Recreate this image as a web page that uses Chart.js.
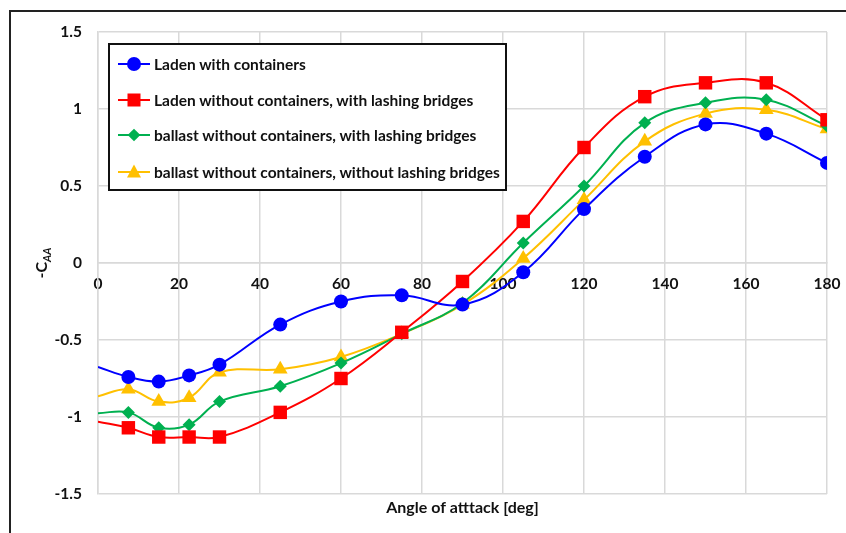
<!DOCTYPE html>
<html>
<head>
<meta charset="utf-8">
<script src="https://cdn.jsdelivr.net/npm/chart.js@4.4.1/dist/chart.umd.min.js"></script>
<style>
    body { margin: 0; background: #fff; }
    #wrap { position: relative; width: 846px; height: 533px; overflow: hidden; font-family: Lato, sans-serif; }
    #frame { position: absolute; left: 9px; top: 10px; width: 900px; height: 600px; border: 2px solid #222; }
    #yTitle { position: absolute; left: 42px; top: 263px; transform: translate(-50%, -50%) rotate(-90deg);
        font-weight: bold; font-size: 16px; color: #111; white-space: nowrap; }
    #yTitle sub { font-size: 11px; font-style: italic; }
    #legend { position: absolute; left: 108px; top: 43px; width: 395px; height: 144px; border: 2px solid #111;
        background: #fff; }
    .row { position: absolute; left: 8px; height: 20px; display: flex; align-items: center; }
    .sample { position: relative; width: 32px; height: 20px; margin-right: 4px; }
    .sample .ln { position: absolute; left: 0; right: 0; top: 9px; height: 2px; }
    .sample .mk { position: absolute; left: 50%; top: 50%; transform: translate(-50%, -50%); }
    .row span { font-weight: bold; font-size: 15.5px; color: #111; white-space: nowrap; }
</style>
</head>
<body>
<div id="wrap">
    <div id="frame"></div>
    <canvas id="lineChart" width="846" height="533"></canvas>
    <div id="yTitle">-C<sub>AA</sub></div>
    <div id="legend"></div>
</div>
<script>
// Data
const angles = [0, 7.5, 15, 22.5, 30, 45, 60, 75, 90, 105, 120, 135, 150, 165, 180];
const ladenWith = [-0.675, -0.74, -0.77, -0.73, -0.66, -0.40, -0.25, -0.21, -0.27, -0.06, 0.35, 0.69, 0.90, 0.84, 0.65];
const ladenLashing = [-1.03, -1.07, -1.13, -1.13, -1.13, -0.97, -0.75, -0.45, -0.12, 0.27, 0.75, 1.08, 1.17, 1.17, 0.93];
const ballastLashing = [-0.975, -0.97, -1.07, -1.05, -0.90, -0.80, -0.65, -0.46, -0.26, 0.13, 0.50, 0.91, 1.04, 1.06, 0.89];
const ballastNoLashing = [-0.865, -0.82, -0.90, -0.875, -0.71, -0.69, -0.61, -0.46, -0.27, 0.03, 0.41, 0.79, 0.97, 0.995, 0.87];

const seriesNames = [
    'Laden with containers',
    'Laden without containers, with lashing bridges',
    'ballast without containers, with lashing bridges',
    'ballast without containers, without lashing bridges'
];
const xTicks = { min: 0, max: 180, step: 20 };
const yTicks = { min: -1.5, max: 1.5, step: 0.5 };

const colors = ['#0000FF', '#FF0000', '#00B050', '#FFC000'];
const styles = ['circle', 'rect', 'rectRot', 'triangle'];
const sizes = [7, 9.5, 6.5, 8.5];

function toPoints(values) {
    return angles.map((a, i) => ({ x: a, y: values[i] }));
}

// first point (x = 0) has no marker in the original
function radii(r) {
    return angles.map((a, i) => i === 0 ? 0 : r);
}

const allValues = [ladenWith, ladenLashing, ballastLashing, ballastNoLashing];
const datasets = allValues.map((values, i) => ({
    label: seriesNames[i],
    data: toPoints(values),
    borderColor: colors[i],
    backgroundColor: colors[i],
    borderWidth: 2,
    pointStyle: styles[i],
    pointRadius: radii(sizes[i]),
    pointBorderWidth: 0,
    tension: 0.4
}));

const gridColor = '#d9d9d9';
const tickFont = { family: 'Lato', size: 15.5, weight: 'bold' };

const ctx = document.getElementById('lineChart').getContext('2d');
new Chart(ctx, {
    type: 'line',
    data: { datasets: datasets },
    options: {
        responsive: false,
        animation: false,
        layout: { padding: { top: 32, right: 19, left: 0, bottom: 0 } },
        plugins: {
            legend: { display: false },
            tooltip: { enabled: false }
        },
        scales: {
            x: {
                type: 'linear',
                position: { y: 0 },
                min: xTicks.min,
                max: xTicks.max,
                ticks: { stepSize: xTicks.step, color: '#111', font: tickFont, padding: 12, maxRotation: 0 },
                grid: { color: gridColor, lineWidth: 1.5, drawTicks: false },
                border: { color: gridColor, width: 1.5 },
                // labels may hang over the edges, don't reserve room for them
                afterFit: scale => { scale.paddingLeft = 0; scale.paddingRight = 0; }
            },
            xb: {
                type: 'linear',
                position: 'bottom',
                min: xTicks.min,
                max: xTicks.max,
                ticks: { display: false },
                grid: { display: false, drawTicks: false },
                border: { display: false },
                title: {
                    display: true,
                    text: 'Angle of atttack [deg]',
                    color: '#111',
                    font: { family: 'Lato', size: 16, weight: 'bold' },
                    padding: { top: 0, bottom: 16 }
                },
                afterFit: scale => { scale.height = 39; scale.paddingLeft = 0; scale.paddingRight = 0; }
            },
            y: {
                type: 'linear',
                min: yTicks.min,
                max: yTicks.max,
                ticks: {
                    stepSize: yTicks.step, color: '#111', font: tickFont, padding: 16,
                    callback: v => String(v)
                },
                grid: { color: gridColor, lineWidth: 1.5, drawTicks: false },
                border: { color: gridColor, width: 1.5 },
                afterFit: scale => { scale.width = 98; }
            }
        }
    }
});

// Legend inside the plot
const legend = document.getElementById('legend');
const rowTops = [9, 45, 80, 117];
datasets.forEach((ds, i) => {
    const row = document.createElement('div');
    row.className = 'row';
    row.style.top = rowTops[i] + 'px';
    let mk = '';
    if (styles[i] === 'circle') {
        mk = `<div class="mk" style="width:14px;height:14px;border-radius:50%;background:${colors[i]}"></div>`;
    } else if (styles[i] === 'rect') {
        mk = `<div class="mk" style="width:13px;height:13px;background:${colors[i]}"></div>`;
    } else if (styles[i] === 'rectRot') {
        mk = `<div class="mk" style="width:9px;height:9px;background:${colors[i]};transform:translate(-50%,-50%) rotate(45deg)"></div>`;
    } else {
        mk = `<div class="mk" style="width:0;height:0;border-left:7.5px solid transparent;border-right:7.5px solid transparent;border-bottom:13px solid ${colors[i]};margin-top:-1px"></div>`;
    }
    row.innerHTML = `<div class="sample"><div class="ln" style="background:${colors[i]}"></div>${mk}</div><span>${ds.label}</span>`;
    legend.appendChild(row);
});
</script>
</body>
</html>
